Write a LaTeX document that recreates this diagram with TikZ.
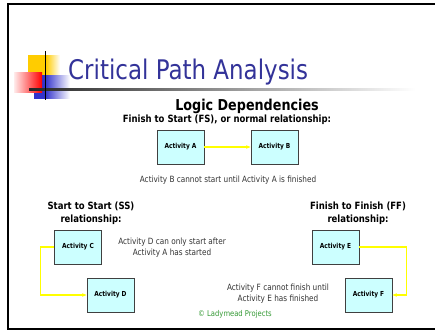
\documentclass[tikz,border=0pt]{standalone}
\usepackage{fontspec}
\setmainfont[FakeStretch=0.85]{DejaVu Sans}
\usetikzlibrary{arrows.meta}
\definecolor{titleblue}{HTML}{333399}
\definecolor{boxfill}{HTML}{CCFFFF}
\definecolor{conncol}{HTML}{FFFF00}
\definecolor{textgrey}{HTML}{333333}
\definecolor{copygreen}{HTML}{339933}
\definecolor{decoyellow}{HTML}{FFCC00}
\definecolor{decoblue}{HTML}{3333CC}
\definecolor{decored}{HTML}{FF0000}
\tikzset{
  actbox/.style={draw=black!75, line width=0.8pt, fill=boxfill, minimum width=47pt, minimum height=34pt, inner sep=0pt, font=\bfseries\fontsize{6.9}{8}\selectfont},
  conn/.style={draw=conncol, line width=1.2pt, -{Stealth[length=4.5pt,width=3.5pt]}},
  heading/.style={font=\bfseries\fontsize{10}{13.5}\selectfont, align=center, inner sep=0pt},
  note/.style={font=\fontsize{8.6}{11}\selectfont, text=textgrey, align=center, inner sep=0pt}
}
\begin{document}
\begin{tikzpicture}[x=1pt,y=-1pt]
\useasboundingbox (0,0) rectangle (435,331);
\fill[white] (0,0) rectangle (435,331);
\clip (0,0) rectangle (435,331);
% frame
\draw[line width=1.8pt] (440,4.2) -- (8.2,4.2) -- (8.2,329.3) -- (440,329.3);
% title decoration
\shade[left color=decoyellow, right color=decoyellow] (28,56) rectangle (46,80);
\shade[left color=decoyellow, right color=white] (46,56) rectangle (60,80);
\shade[left color=decoblue, right color=decoblue] (34,76) rectangle (45,99);
\shade[left color=decoblue, right color=white] (45,76) rectangle (70,99);
\shade[left color=decored!8, right color=decored, shading angle=90] (14,73) rectangle (42,93);
\shade[left color=black!85, right color=white] (29,88.2) rectangle (415,90.2);
\draw[line width=1.4pt] (45.5,51) -- (45.5,100);
% title
\node[anchor=base west, inner sep=0pt, text=titleblue, font=\fontsize{27}{30}\selectfont] (title) at (68,80) {Critical Path Analysis};
% headings
\node[heading, font=\bfseries\fontsize{15}{17}\selectfont] (logic) at (247,106) {Logic Dependencies};
\node[heading] (fs) at (227,120) {Finish to Start (FS), or normal relationship:};
% FS
\node[actbox] (a) at (180.5,147) {Activity A};
\node[actbox] (b) at (274.5,147) {Activity B};
\draw[conn] (a) -- (b);
\node[note] (fsnote) at (228,180) {Activity B cannot start until Activity A is finished};
% SS
\node[heading] (ss) at (91,213) {Start to Start (SS)\\relationship:};
\node[actbox] (c) at (78,247) {Activity C};
\node[actbox] (d) at (110.5,295) {Activity D};
\draw[conn] (c.west) -- ++(-14,0) |- (d.west);
\node[note] (ssnote) at (172,247.5) {Activity D can only start after\\Activity A has started};
% FF
\node[heading] (ff) at (358,213) {Finish to Finish (FF)\\relationship:};
\node[actbox] (e) at (335.5,247) {Activity E};
\node[actbox] (f) at (368.5,295) {Activity F};
\draw[conn] (e.east) -- ++(47,0) |- (f.east);
\node[note] (ffnote) at (278,294) {Activity F cannot finish until\\Activity E has finished};
% copyright
\node[inner sep=0pt, text=copygreen, font=\fontsize{8}{9}\selectfont] (copy) at (235,314) {© Ladymead Projects};
\end{tikzpicture}
\end{document}
